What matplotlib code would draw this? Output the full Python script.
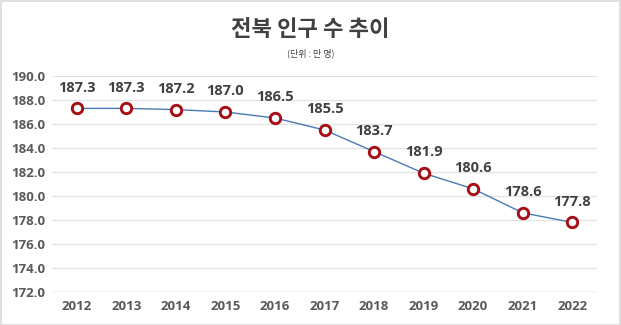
import matplotlib
matplotlib.use("Agg")
import matplotlib.pyplot as plt

years = ["2012", "2013", "2014", "2015", "2016", "2017", "2018", "2019", "2020", "2021", "2022"]
population = [187.3, 187.3, 187.2, 187.0, 186.5, 185.5, 183.7, 181.9, 180.6, 178.6, 177.8]
y_ticks = [172.0, 174.0, 176.0, 178.0, 180.0, 182.0, 184.0, 186.0, 188.0, 190.0]
title = "전북 인구 수 추이"
subtitle = "(단위 : 만 명)"

W, H = 621, 325
fig = plt.figure(figsize=(W / 100, H / 100), dpi=100)
fig.patch.set_facecolor("white")

# border
border = plt.Rectangle((0.5 / W, 0.5 / H), 1 - 1.5 / W, 1 - 1.5 / H, transform=fig.transFigure,
                       fill=False, edgecolor="#d9d9d9", linewidth=1.2)
fig.add_artist(border)

left, right = 52 / W, 597 / W
top, bottom = 1 - 76 / H, 1 - 292 / H
ax = fig.add_axes([left, bottom, right - left, top - bottom])

x = list(range(len(years)))
ax.plot(x, population, color="#4a7ab5", linewidth=1.0, zorder=2)
ax.plot(x, population, linestyle="none", marker="o", markersize=7.5,
        markerfacecolor="white", markeredgecolor="#a50f15", markeredgewidth=2.1, zorder=3)

for xi, v in zip(x, population):
    ax.annotate(f"{v:.1f}", (xi, v), xytext=(0, 10), textcoords="offset points",
                ha="center", va="bottom", fontsize=10.5, fontweight="bold",
                color="#404040", family=["Open Sans", "DejaVu Sans"])

ax.set_xlim(-0.5, len(years) - 0.5)
ax.set_ylim(172, 190)
ax.set_yticks(y_ticks)
ax.set_yticklabels([f"{t:.1f}" for t in y_ticks])
ax.set_xticks(x)
ax.set_xticklabels(years)
ax.grid(axis="y", color="#e3e3e3", linewidth=0.9, zorder=0)
ax.set_axisbelow(True)
for s in ["top", "right", "left", "bottom"]:
    ax.spines[s].set_visible(False)
ax.axhline(172, color="#d0d0d0", linewidth=1.0, zorder=1)
ax.tick_params(axis="both", length=0, labelsize=9.5, labelcolor="#595959")
ax.tick_params(axis="y", pad=5)
ax.tick_params(axis="x", pad=6)
for lab in ax.get_xticklabels() + ax.get_yticklabels():
    lab.set_fontweight("bold")
    lab.set_family(["Open Sans", "DejaVu Sans"])

fig.text(0.5, 1 - 30 / H, title, ha="center", va="center", fontsize=16, fontweight="bold",
         color="#404040", family=["Noto Sans CJK KR", "DejaVu Sans"])
fig.text(0.5, 1 - 53 / H, subtitle, ha="center", va="center", fontsize=6.5,
         color="#404040", family=["Noto Sans CJK KR", "DejaVu Sans"])

fig.savefig("out.png", dpi=100, facecolor="white")
